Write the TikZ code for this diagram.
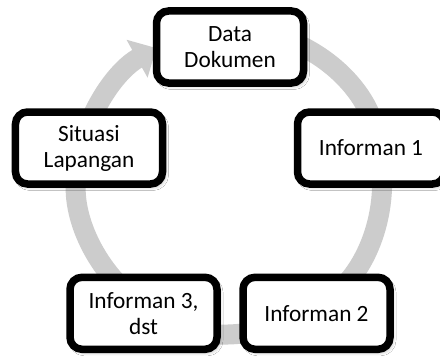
\documentclass[tikz,border=0pt]{standalone}
\usepackage{fontspec}
\setmainfont{Carlito}
\usetikzlibrary{arrows.meta,calc,shadows.blur}

\definecolor{ringgray}{RGB}{204,204,204}

\tikzset{
  stage/.style={
    draw=black, line width=7.5bp, fill=white,
    rounded corners=12bp,
    minimum width=147bp, minimum height=72bp,
    inner sep=0pt, align=center,
    font=\fontsize{23.3bp}{26bp}\selectfont,
    blur shadow={shadow xshift=2.5bp, shadow yshift=-3bp,
                 shadow blur radius=3.5bp, shadow opacity=30}
  },
  ring/.style={draw=ringgray, line width=20bp},
  ringtip/.style={-{Triangle[width=42bp,length=22bp,color=ringgray]}}
}

\begin{document}
\begin{tikzpicture}[x=1bp,y=1bp]
  \useasboundingbox (0,0) rectangle (440,358);
  \fill[white] (0,0) rectangle (440,358);

  % centre of the cycle
  \coordinate (hub) at (230,177);
  \def\rad{152}

  % circular arrows, each running clockwise to the next stage
  \draw[ring,ringtip] ($(hub)+(90:\rad)$)
    arc[start angle=90, end angle=10, radius=\rad];
  \draw[ring,ringtip] ($(hub)+(13.2:\rad)$)
    arc[start angle=13.2, end angle=-58, radius=\rad];
  \draw[ring,ringtip] ($(hub)+(-56.8:\rad)$)
    arc[start angle=-56.8, end angle=-125, radius=\rad];
  \draw[ring,ringtip] ($(hub)+(236.8:\rad)$)
    arc[start angle=236.8, end angle=170, radius=\rad];
  \draw[ring,ringtip] ($(hub)+(166.8:\rad)$)
    arc[start angle=166.8, end angle=119, radius=\rad];

  % stages
  \node[stage] (data)    at (230,311)   {Data\\Dokumen};
  \node[stage] (inf1)    at (371,210)   {Informan 1};
  \node[stage] (inf2)    at (316.5,44.7) {Informan 2};
  \node[stage] (inf3)    at (143.5,44.7) {Informan 3,\\dst};
  \node[stage] (situasi) at (89,210)    {Situasi\\Lapangan};
\end{tikzpicture}
\end{document}
